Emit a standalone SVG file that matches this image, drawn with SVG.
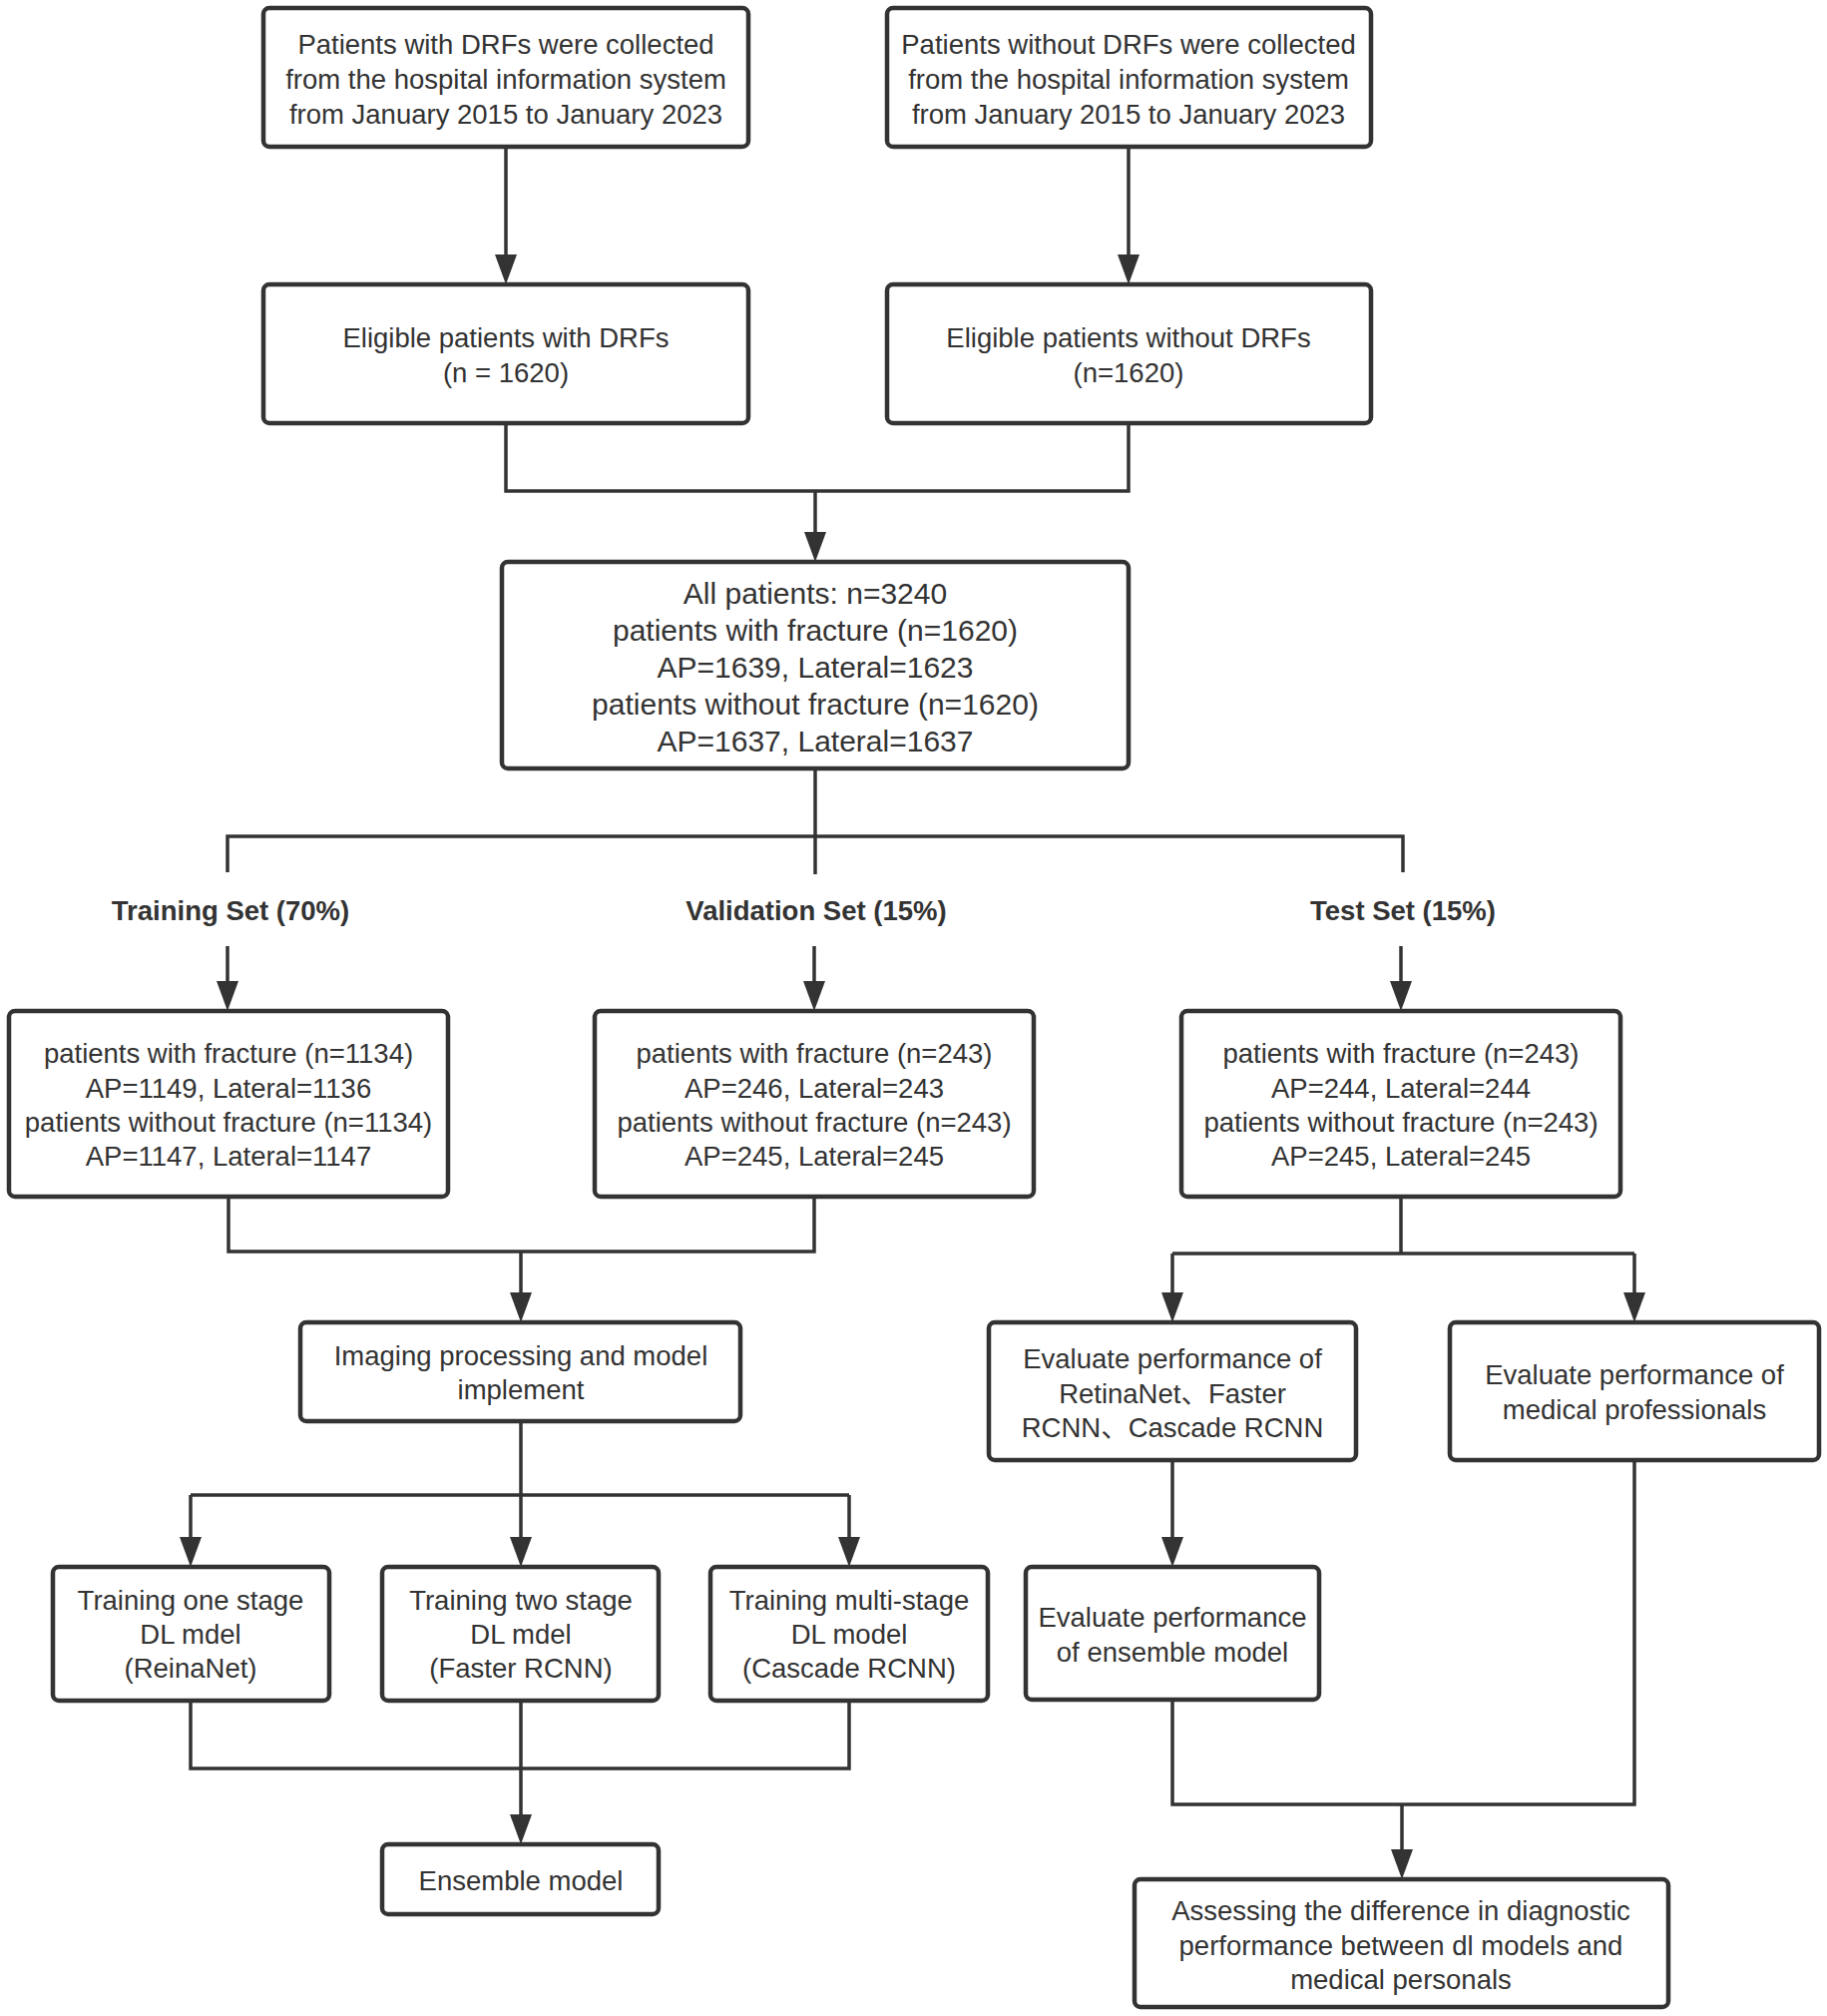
<svg xmlns="http://www.w3.org/2000/svg" width="1831" height="2020" viewBox="0 0 1831 2020">
<style>
.box{fill:#fff;stroke:#333;stroke-width:4.5}
.t{font-family:"Liberation Sans",Arial,"Noto Sans CJK SC",sans-serif;font-size:27.5px;fill:#333;text-anchor:middle}
.big{font-size:30px}
.b{font-weight:bold}
.c{fill:none;stroke:#333;stroke-width:3.5}
.a{fill:none;stroke:#333;stroke-width:3.5;marker-end:url(#arr)}
</style>
<defs>
<marker id="arr" markerUnits="userSpaceOnUse" markerWidth="31" markerHeight="22" refX="25" refY="11" orient="auto" viewBox="0 0 31 22">
<path d="M0,0 L30,11 L0,22 z" fill="#333"/>
</marker>
</defs>
<rect width="1831" height="2020" fill="#fff"/>
<g id="connectors">
<path class="a" d="M507,147 V280"/>
<path class="a" d="M1131,147 V280"/>
<path class="c" d="M507,424 V492 H1131 V424"/>
<path class="a" d="M817,492 V558"/>
<path class="c" d="M817,770 V876"/>
<path class="c" d="M228,874 V838 H1406 V874"/>
<path class="a" d="M228,948 V1008"/>
<path class="a" d="M816,948 V1008"/>
<path class="a" d="M1404,948 V1008"/>
<path class="c" d="M229,1199 V1254 H816 V1199"/>
<path class="a" d="M522,1254 V1320"/>
<path class="c" d="M1404,1199 V1256"/>
<path class="a" d="M1175,1256 V1320"/>
<path class="a" d="M1638,1256 V1320"/>
<path class="c" d="M1175,1256 H1638"/>
<path class="c" d="M522,1424 V1498"/>
<path class="c" d="M191,1498 H851"/>
<path class="a" d="M191,1498 V1565"/>
<path class="a" d="M522,1498 V1565"/>
<path class="a" d="M851,1498 V1565"/>
<path class="c" d="M191,1704 V1772 H851 V1704"/>
<path class="c" d="M522,1704 V1772"/>
<path class="a" d="M522,1772 V1843"/>
<path class="a" d="M1175,1463 V1565"/>
<path class="c" d="M1175,1703 V1808 H1638 V1463"/>
<path class="a" d="M1405,1808 V1878"/>
</g>
<g id="n1"><rect class="box" x="264" y="8" width="486" height="139" rx="6"/>
<text class="t" x="507" y="54">Patients with DRFs were collected</text>
<text class="t" x="507" y="89">from the hospital information system</text>
<text class="t" x="507" y="124">from January 2015 to January 2023</text></g>
<g id="n2"><rect class="box" x="889" y="8" width="485" height="139" rx="6"/>
<text class="t" x="1131" y="54">Patients without DRFs were collected</text>
<text class="t" x="1131" y="89">from the hospital information system</text>
<text class="t" x="1131" y="124">from January 2015 to January 2023</text></g>
<g id="n3"><rect class="box" x="264" y="285" width="486" height="139" rx="6"/>
<text class="t" x="507" y="348">Eligible patients with DRFs</text>
<text class="t" x="507" y="383">(n = 1620)</text></g>
<g id="n4"><rect class="box" x="889" y="285" width="485" height="139" rx="6"/>
<text class="t" x="1131" y="348">Eligible patients without DRFs</text>
<text class="t" x="1131" y="383">(n=1620)</text></g>
<g id="n5"><rect class="box" x="503" y="563" width="628" height="207" rx="6"/>
<text class="t big" x="817" y="605">All patients: n=3240</text>
<text class="t big" x="817" y="642">patients with fracture (n=1620)</text>
<text class="t big" x="817" y="679">AP=1639, Lateral=1623</text>
<text class="t big" x="817" y="716">patients without fracture (n=1620)</text>
<text class="t big" x="817" y="753">AP=1637, Lateral=1637</text></g>
<g id="l1"><text class="t b" x="231" y="922">Training Set (70%)</text></g>
<g id="l2"><text class="t b" x="818" y="922">Validation Set (15%)</text></g>
<g id="l3"><text class="t b" x="1406" y="922">Test Set (15%)</text></g>
<g id="n6"><rect class="box" x="9" y="1013" width="440" height="186" rx="6"/>
<text class="t" x="229" y="1065">patients with fracture (n=1134)</text>
<text class="t" x="229" y="1100">AP=1149, Lateral=1136</text>
<text class="t" x="229" y="1134">patients without fracture (n=1134)</text>
<text class="t" x="229" y="1168">AP=1147, Lateral=1147</text></g>
<g id="n7"><rect class="box" x="596" y="1013" width="440" height="186" rx="6"/>
<text class="t" x="816" y="1065">patients with fracture (n=243)</text>
<text class="t" x="816" y="1100">AP=246, Lateral=243</text>
<text class="t" x="816" y="1134">patients without fracture (n=243)</text>
<text class="t" x="816" y="1168">AP=245, Lateral=245</text></g>
<g id="n8"><rect class="box" x="1184" y="1013" width="440" height="186" rx="6"/>
<text class="t" x="1404" y="1065">patients with fracture (n=243)</text>
<text class="t" x="1404" y="1100">AP=244, Lateral=244</text>
<text class="t" x="1404" y="1134">patients without fracture (n=243)</text>
<text class="t" x="1404" y="1168">AP=245, Lateral=245</text></g>
<g id="n9"><rect class="box" x="301" y="1325" width="441" height="99" rx="6"/>
<text class="t" x="522" y="1368">Imaging processing and model</text>
<text class="t" x="522" y="1402">implement</text></g>
<g id="n10"><rect class="box" x="991" y="1325" width="368" height="138" rx="6"/>
<text class="t" x="1175" y="1371">Evaluate performance of</text>
<text class="t" x="1175" y="1406">RetinaNet、Faster</text>
<text class="t" x="1175" y="1440">RCNN、Cascade RCNN</text></g>
<g id="n11"><rect class="box" x="1453" y="1325" width="370" height="138" rx="6"/>
<text class="t" x="1638" y="1387">Evaluate performance of</text>
<text class="t" x="1638" y="1422">medical professionals</text></g>
<g id="n12"><rect class="box" x="53" y="1570" width="277" height="134" rx="6"/>
<text class="t" x="191" y="1613">Training one stage</text>
<text class="t" x="191" y="1647">DL mdel</text>
<text class="t" x="191" y="1681">(ReinaNet)</text></g>
<g id="n13"><rect class="box" x="383" y="1570" width="277" height="134" rx="6"/>
<text class="t" x="522" y="1613">Training two stage</text>
<text class="t" x="522" y="1647">DL mdel</text>
<text class="t" x="522" y="1681">(Faster RCNN)</text></g>
<g id="n14"><rect class="box" x="712" y="1570" width="278" height="134" rx="6"/>
<text class="t" x="851" y="1613">Training multi-stage</text>
<text class="t" x="851" y="1647">DL model</text>
<text class="t" x="851" y="1681">(Cascade RCNN)</text></g>
<g id="n15"><rect class="box" x="383" y="1848" width="277" height="70" rx="6"/>
<text class="t" x="522" y="1894">Ensemble model</text></g>
<g id="n16"><rect class="box" x="1028" y="1570" width="294" height="133" rx="6"/>
<text class="t" x="1175" y="1630">Evaluate performance</text>
<text class="t" x="1175" y="1665">of ensemble model</text></g>
<g id="n17"><rect class="box" x="1137" y="1883" width="535" height="128" rx="6"/>
<text class="t" x="1404" y="1924">Assessing the difference in diagnostic</text>
<text class="t" x="1404" y="1959">performance between dl models and</text>
<text class="t" x="1404" y="1993">medical personals</text></g>
</svg>
